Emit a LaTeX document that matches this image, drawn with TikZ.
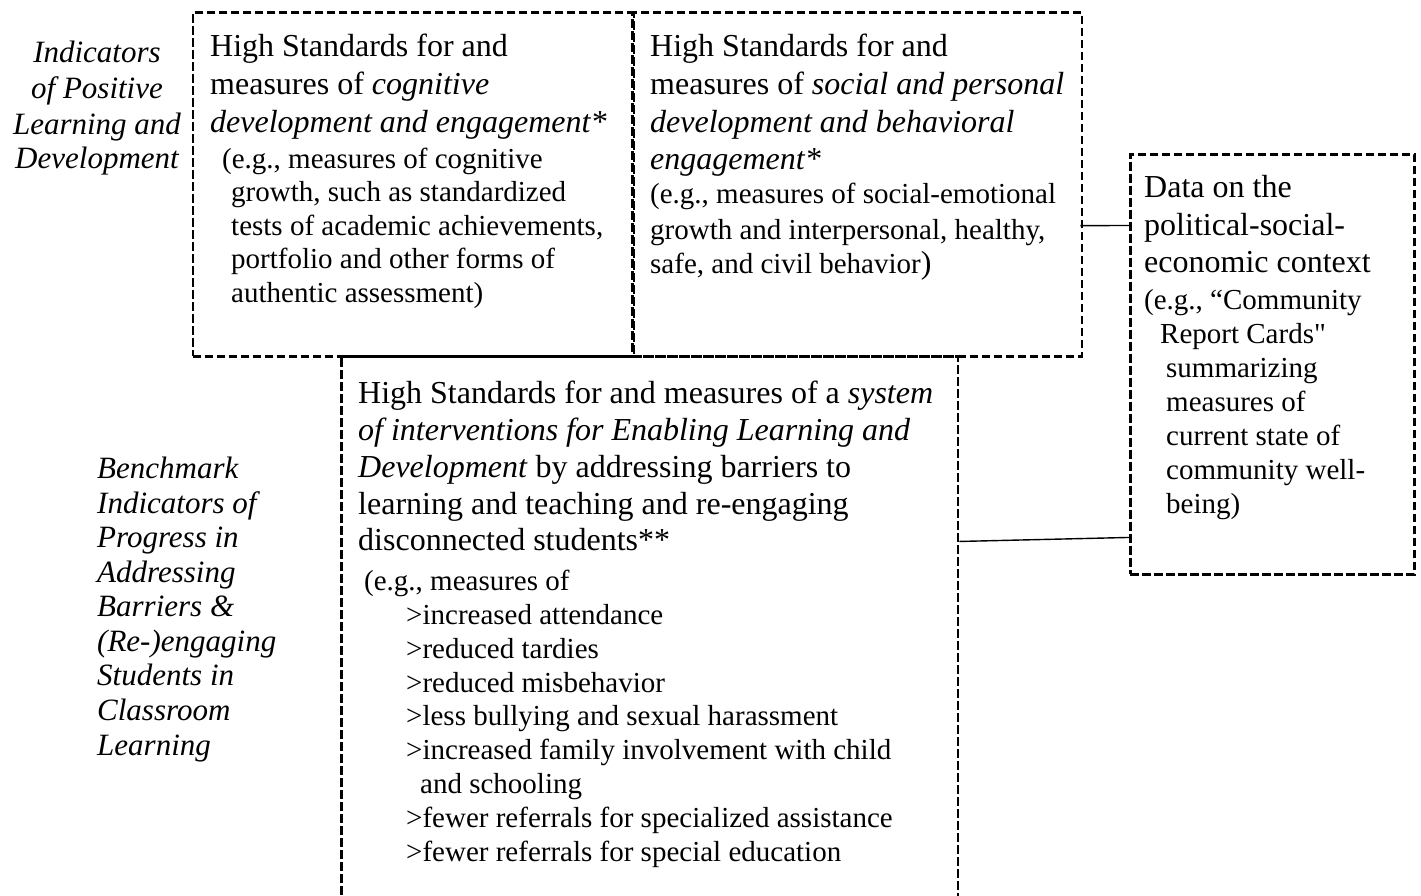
\documentclass[tikz,border=0pt]{standalone}
\usepackage{fontspec}
\setmainfont{Liberation Serif}
\newfontfamily\plainquote{Liberation Serif}
\tikzset{
  box/.style={draw, line width=2.9pt, dash pattern=on 8.5pt off 3.5pt, inner sep=0pt, anchor=north west},
  mt/.style={anchor=base west, inner sep=0pt, font=\fontsize{32}{38}\selectfont},
  st/.style={anchor=base west, inner sep=0pt, font=\fontsize{29}{34}\selectfont},
  lab/.style={anchor=base, inner sep=0pt, font=\fontsize{31}{36}\selectfont\itshape},
  labl/.style={anchor=base west, inner sep=0pt, font=\fontsize{31}{36}\selectfont\itshape},
  link/.style={line width=1.4pt}
}
\begin{document}
\begin{tikzpicture}[x=1pt, y=-1pt]
\useasboundingbox (0,0) rectangle (1421,896);

% boxes
\node[box, minimum width=616.5pt, minimum height=565pt] (C) at (340,355) {};
\node[box, minimum width=439.5pt, minimum height=343.5pt] (A) at (191.5,11.5) {};
\node[box, minimum width=448pt, minimum height=343.5pt] (B) at (632.5,11.5) {};
\node[box, minimum width=284pt, minimum height=420pt] (D) at (1129,153) {};

% connectors
\draw[link] ([xshift=-3pt, yshift=-41pt]B.east) -- ([yshift=139pt]D.west);
\draw[link] ([yshift=97.5pt]C.east) -- ([yshift=-173pt]D.west);

% left labels
\node[lab] (l1) at (97,63) {Indicators};
\node[lab] (l2) at (97,99) {of Positive};
\node[lab] (l3) at (97,135) {Learning and};
\node[lab] (l4) at (97,169) {Development};

\node[labl] (m1) at (97,478) {Benchmark};
\node[labl] (m2) at (97,513) {Indicators of};
\node[labl] (m3) at (97,547) {Progress in};
\node[labl] (m4) at (97,582) {Addressing};
\node[labl] (m5) at (97,616) {Barriers \&};
\node[labl] (m6) at (97,651) {(Re-)engaging};
\node[labl] (m7) at (97,685) {Students in};
\node[labl] (m8) at (97,720) {Classroom};
\node[labl] (m9) at (97,755) {Learning};

% box A text
\node[mt] (a1) at (210,57) {High Standards for and};
\node[mt] (a2) at (210,95) {measures of \textit{cognitive}};
\node[mt] (a3) at (210,133) {\textit{development and engagement*}};
\node[st] (a4) at (222,169) {(e.g., measures of cognitive};
\node[st] (a5) at (231,202) {growth, such as standardized};
\node[st] (a6) at (231,235) {tests of academic achievements,};
\node[st] (a7) at (231,268) {portfolio and other forms of};
\node[st] (a8) at (231,302) {authentic assessment)};

% box B text
\node[mt] (b1) at (650,57) {High Standards for and};
\node[mt] (b2) at (650,95) {measures of \textit{social and personal}};
\node[mt] (b3) at (650,133) {\textit{development and behavioral}};
\node[mt] (b4) at (650,170) {\textit{engagement*}};
\node[st] (b5) at (650,204) {(e.g., measures of social-emotional};
\node[st] (b6) at (650,239) {growth and interpersonal, healthy,};
\node[st] (b7) at (650,273) {safe, and civil behavior{\fontsize{32}{38}\selectfont)}};

% box C text
\node[mt] (c1) at (358,403) {High Standards for and measures of a \textit{system}};
\node[mt] (c2) at (358,440) {\textit{of interventions for Enabling Learning and}};
\node[mt] (c3) at (358,477) {\textit{Development} by addressing barriers to};
\node[mt] (c4) at (358,514) {learning and teaching and re-engaging};
\node[mt] (c5) at (358,550) {disconnected students**};
\node[st] (c6) at (364,590) {(e.g., measures of};
\node[st] (c7) at (406,624) {>increased attendance};
\node[st] (c8) at (406,658) {>reduced tardies};
\node[st] (c9) at (406,692) {>reduced misbehavior};
\node[st] (c10) at (406,725) {>less bullying and sexual harassment};
\node[st] (c11) at (406,759) {>increased family involvement with child};
\node[st] (c12) at (420,793) {and schooling};
\node[st] (c13) at (406,827) {>fewer referrals for specialized assistance};
\node[st] (c14) at (406,861) {>fewer referrals for special education};

% box D text
\node[mt] (d1) at (1144,198) {Data on the};
\node[mt] (d2) at (1144,235) {political-social-};
\node[mt] (d3) at (1144,272) {economic context};
\node[st] (d4) at (1144,309) {(e.g., “Community};
\node[st] (d5) at (1160,343) {Report Cards{\plainquote"}};
\node[st] (d6) at (1166,377) {summarizing};
\node[st] (d7) at (1166,411) {measures of};
\node[st] (d8) at (1166,445) {current state of};
\node[st] (d9) at (1166,479) {community well-};
\node[st] (d10) at (1166,513) {being)};
\end{tikzpicture}
\end{document}
